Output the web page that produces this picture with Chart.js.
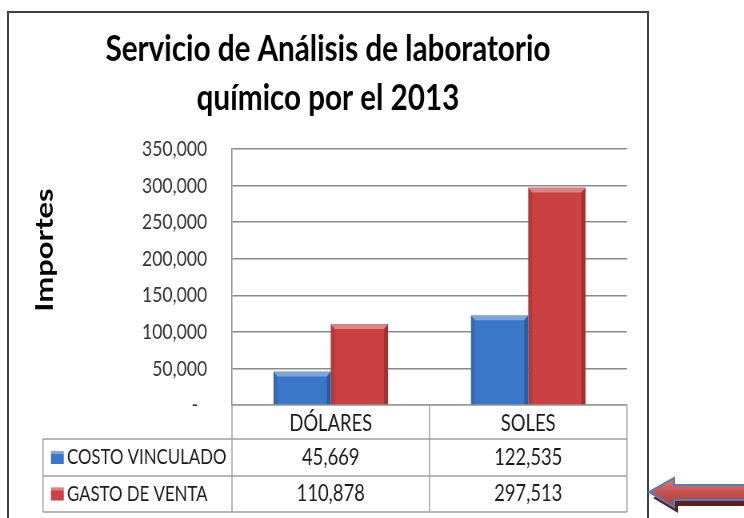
<!DOCTYPE html>
<html>
<head>
<meta charset="utf-8">
<script src="https://cdn.jsdelivr.net/npm/chart.js@4.4.1/dist/chart.umd.min.js"></script>
<style>
html, body { margin: 0; padding: 0; background: #fff; overflow: hidden; }
#wrap { position: absolute; left: 0; top: 0; width: 930px; height: 518px; transform: scaleX(0.8); transform-origin: 0 0; }
#frame { position: absolute; left: 7px; top: 11px; width: 642px; height: 530px; border: 2px solid #404040; box-sizing: border-box; pointer-events: none; }
#arrow { position: absolute; left: 640px; top: 470px; }
</style>
</head>
<body>
<div id="wrap"><canvas id="grafico" width="930" height="518"></canvas></div>
<div id="frame"></div>
<svg id="arrow" width="104" height="48">
  <defs>
    <linearGradient id="rojo" x1="0" y1="0" x2="0" y2="1">
      <stop offset="0" stop-color="#dc7a76"/>
      <stop offset="0.5" stop-color="#c4524f"/>
      <stop offset="1" stop-color="#a8403d"/>
    </linearGradient>
  </defs>
  <polygon points="13,28 38,14 38,21 108,21 108,36 38,36 38,43" fill="#5e1f1f"/>
  <polygon points="9,22 34,8 34,15 106,15 106,30 34,30 34,37" fill="url(#rojo)" stroke="#4f81bd" stroke-width="2"/>
</svg>

<script>
// datos del grafico
const categorias = ['DÓLARES', 'SOLES'];
const seriesNombres = ['COSTO VINCULADO', 'GASTO DE VENTA'];
const costoVinculado = [45669, 122535];
const gastoVenta = [110878, 297513];
const ejeMin = 0;
const ejeMax = 350000;
const ejePaso = 50000;

const colores = ['#3a77c8', '#cb4040'];
const fmt = v => v.toLocaleString('en-US');

Chart.defaults.font.family = 'Lato';

// titulo y titulo del eje
const titulos = {
    id: 'titulos',
    afterDraw(chart) {
        const ctx = chart.ctx;
        ctx.save();
        ctx.fillStyle = '#000';
        ctx.font = 'bold 37px Lato';
        ctx.textAlign = 'center';
        ctx.textBaseline = 'alphabetic';
        ctx.fillText('Servicio de Análisis de laboratorio', 410, 61);
        ctx.fillText('químico por el 2013', 410, 110);

        ctx.translate(56, 250);
        ctx.rotate(-Math.PI / 2);
        ctx.font = 'bold 31px Lato';
        ctx.textBaseline = 'middle';
        ctx.fillText('Importes', 0, 0);
        ctx.restore();
    }
};

// efecto 3d en las barras
const bisel = {
    id: 'bisel',
    afterDatasetsDraw(chart) {
        const ctx = chart.ctx;
        const poly = (pts, color) => {
            ctx.fillStyle = color;
            ctx.beginPath();
            ctx.moveTo(pts[0], pts[1]);
            for (let i = 2; i < pts.length; i += 2) ctx.lineTo(pts[i], pts[i + 1]);
            ctx.closePath();
            ctx.fill();
        };
        ctx.save();
        chart.getSortedVisibleDatasetMetas().forEach(meta => {
            meta.data.forEach(bar => {
                const p = bar.getProps(['x', 'y', 'base', 'width'], true);
                const l = p.x - p.width / 2, r = p.x + p.width / 2, b = 5;
                poly([l, p.y, r, p.y, r - b, p.y + b, l + b, p.y + b], 'rgba(255,255,255,0.35)');
                poly([l, p.y, l + b, p.y + b, l + b, p.base, l, p.base], 'rgba(0,0,0,0.10)');
                poly([r, p.y, r - b, p.y + b, r - b, p.base, r, p.base], 'rgba(0,0,0,0.22)');
            });
        });
        ctx.restore();
    }
};

// tabla de datos bajo el grafico
const tabla = {
    id: 'tabla',
    afterDraw(chart) {
        const ctx = chart.ctx;
        const area = chart.chartArea;
        const x = chart.scales.x;
        const izq = 53.75;
        const filas = [439, 476, 512];
        const medio = (x.getPixelForValue(0) + x.getPixelForValue(1)) / 2;
        const valores = [costoVinculado, gastoVenta];

        ctx.save();
        ctx.strokeStyle = '#a0a0a0';
        ctx.lineWidth = 1.5;
        ctx.beginPath();
        [area.left, medio, area.right].forEach(cx => {
            ctx.moveTo(cx, area.bottom);
            ctx.lineTo(cx, filas[2]);
        });
        ctx.moveTo(izq, filas[0]);
        ctx.lineTo(izq, filas[2]);
        filas.forEach(fy => {
            ctx.moveTo(izq, fy);
            ctx.lineTo(area.right, fy);
        });
        ctx.stroke();

        ctx.textBaseline = 'middle';
        seriesNombres.forEach((nombre, i) => {
            const cy = (filas[i] + filas[i + 1]) / 2;
            ctx.fillStyle = colores[i];
            ctx.fillRect(63.75, cy - 6.5, 16, 13);
            ctx.fillStyle = 'rgba(255,255,255,0.35)';
            ctx.fillRect(63.75, cy - 6.5, 16, 3);
            ctx.fillStyle = '#1a1a1a';
            ctx.textAlign = 'left';
            ctx.font = '21px Lato';
            ctx.fillText(nombre, 83.75, cy);
            ctx.textAlign = 'center';
            ctx.font = '23px Lato';
            valores[i].forEach((v, j) => {
                ctx.fillText(fmt(v), x.getPixelForValue(j), cy);
            });
        });
        ctx.restore();
    }
};

new Chart(document.getElementById('grafico'), {
    type: 'bar',
    data: {
        labels: categorias,
        datasets: [{
            label: seriesNombres[0],
            data: costoVinculado,
            backgroundColor: colores[0]
        }, {
            label: seriesNombres[1],
            data: gastoVenta,
            backgroundColor: colores[1]
        }]
    },
    options: {
        responsive: false,
        animation: false,
        categoryPercentage: 0.58,
        barPercentage: 1,
        layout: { padding: { top: 149, right: 146.25, bottom: 0, left: 0 } },
        plugins: {
            legend: { display: false },
            title: { display: false },
            tooltip: { enabled: false }
        },
        scales: {
            x: {
                grid: { display: false, drawTicks: false },
                border: { display: true, color: '#9a9a9a', width: 1.5 },
                ticks: { padding: 5, color: '#1a1a1a', font: { size: 23 } },
                afterFit(scale) { scale.height = 113; }
            },
            y: {
                min: ejeMin,
                max: ejeMax,
                grid: { color: '#8a8a8a', lineWidth: 1.5, drawTicks: false },
                border: { display: true, color: '#8a8a8a', width: 1.5 },
                ticks: {
                    stepSize: ejePaso,
                    padding: 31,
                    color: '#333',
                    font: { size: 22 },
                    callback: v => v === 0 ? '-  ' : fmt(v)
                },
                afterFit(scale) { scale.width = 290; }
            }
        }
    },
    plugins: [bisel, tabla, titulos]
});
</script>
</body>
</html>
